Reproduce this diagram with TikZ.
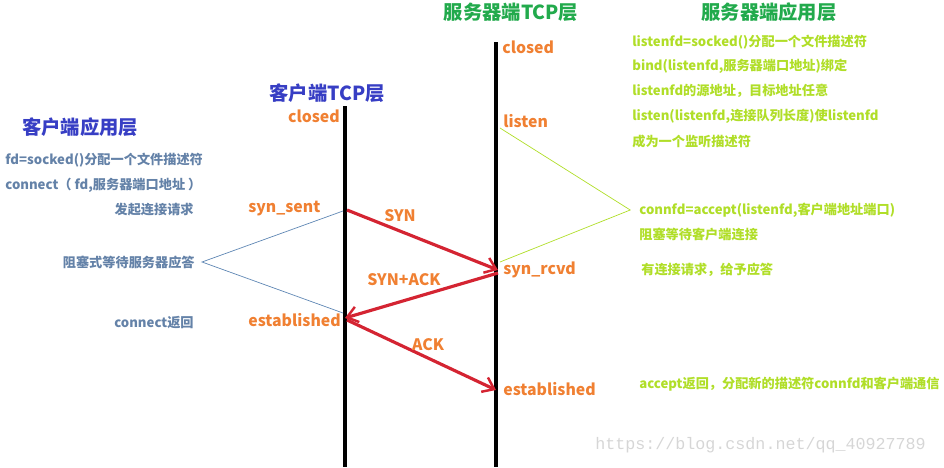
\documentclass[tikz,border=0pt]{standalone}
\usepackage{fontspec}
\setmainfont{Noto Sans CJK SC}
\newfontfamily\wmfont{Liberation Mono}
\usepackage{xcolor}
\usetikzlibrary{arrows.meta, positioning}

\definecolor{srvgreen}{RGB}{34,170,76}
\definecolor{clientblue}{RGB}{55,62,196}
\definecolor{stateorange}{RGB}{240,128,50}
\definecolor{clientgray}{RGB}{100,130,168}
\definecolor{applime}{RGB}{176,222,40}
\definecolor{msgred}{RGB}{212,36,50}
\definecolor{linkblue}{RGB}{95,135,180}

\begin{document}
\begin{tikzpicture}[
    x=0.02cm, y=-0.02cm,
    >=Stealth,
    % --- text styles ---
    titlelbl/.style={font=\fontsize{11}{13}\selectfont\bfseries, inner sep=0pt},
    statelbl/.style={font=\fontsize{9}{11}\selectfont\bfseries, text=stateorange, inner sep=0pt},
    cnote/.style={font=\fontsize{7.5}{9}\selectfont\bfseries, text=clientgray, inner sep=0pt},
    snote/.style={font=\fontsize{7.5}{9}\selectfont\bfseries, text=applime, inner sep=0pt},
    % --- line styles ---
    lifeline/.style={line width=2.8pt, color=black},
    msg/.style={-{Straight Barb[length=6pt, width=9pt, line width=1.4pt]},
        line width=1.8pt, color=msgred},
    clink/.style={line width=0.4pt, color=linkblue},
    slink/.style={line width=0.4pt, color=applime},
]
\useasboundingbox (0,0) rectangle (944,467);

% ---- Layer titles ----
\node[titlelbl, text=clientblue] (ctcp) at (327,93) {客户端TCP层};
\node[titlelbl, text=srvgreen] (stcp) at (511,12) {服务器端TCP层};
\node[titlelbl, text=clientblue] (capp) at (80,127) {客户端应用层};
\node[titlelbl, text=srvgreen] (sapp) at (769,12) {服务器端应用层};

% ---- Lifelines ----
\coordinate (ctop) at (345,106);
\coordinate (cbot) at (345,467);
\coordinate (stop) at (496,42);
\coordinate (sbot) at (496,467);
\draw[lifeline] (ctop) -- (cbot);
\draw[lifeline] (stop) -- (sbot);

% ---- TCP states ----
\node[statelbl, anchor=east] (cclosed) at (340,116) {closed};
\node[statelbl, anchor=west] (synsent) at (248,209) {syn\_sent};
\node[statelbl, anchor=west] (cest) at (248,320) {established};
\node[statelbl, anchor=west] (sclosed) at (502,47) {closed};
\node[statelbl, anchor=west] (listen) at (503,121) {listen};
\node[statelbl, anchor=west] (synrcvd) at (503,270) {syn\_rcvd};
\node[statelbl, anchor=west] (sest) at (503,389) {established};

% ---- Handshake points on the lifelines ----
\coordinate (c1) at (347,210);
\coordinate (s1) at (498,270);
\coordinate (s2) at (498,273);
\coordinate (c2) at (345,318);
\coordinate (c3) at (347,320);
\coordinate (s3) at (496,390);

\draw[msg] (c1) -- (s1);
\draw[msg] (s2) -- (c2);
\draw[msg] (c3) -- (s3);
\node[statelbl] (syn) at (400,216) {SYN};
\node[statelbl] (synack) at (404,280) {SYN+ACK};
\node[statelbl] (ack) at (428,345) {ACK};

% ---- Client application notes ----
\node[cnote, anchor=west] (cn1) at (5,160) {fd=socked()分配一个文件描述符};
\node[cnote, anchor=west] (cn2) at (5,185) {connect（ fd,服务器端口地址 ）};
\node[cnote, anchor=east] (cn3) at (194,210) {发起连接请求};
\node[cnote, anchor=east] (cwait) at (195,262) {阻塞式等待服务器应答};
\node[cnote, anchor=east] (cn5) at (194,323) {connect返回};

\coordinate (cwa) at (343,211);
\coordinate (cwb) at (343,313);
\draw[clink] (cwa) -- ([xshift=4pt]cwait.east) -- (cwb);

% ---- Server application notes ----
\node[snote, anchor=west] (sn1) at (632,42) {listenfd=socked()分配一个文件描述符};
\node[snote, anchor=west] (sn2) at (632,66) {bind(listenfd,服务器端口地址)绑定};
\node[snote, anchor=west] (sn3) at (632,91) {listenfd的源地址，目标地址任意};
\node[snote, anchor=west] (sn4) at (632,116) {listen(listenfd,连接队列长度)使listenfd};
\node[snote, anchor=west] (sn5) at (632,141) {成为一个监听描述符};
\node[snote, anchor=west] (saccept) at (639,210) {connfd=accept(listenfd,客户端地址端口)};
\node[snote, anchor=west] (sn7) at (639,234) {阻塞等待客户端连接};
\node[snote, anchor=west] (sn8) at (641,270) {有连接请求，给予应答};
\node[snote, anchor=west] (sn9) at (639,384) {accept返回，分配新的描述符connfd和客户端通信};

\coordinate (swa) at (500,128);
\coordinate (swb) at (500,262);
\draw[slink] (swa) -- ([xshift=-5pt]saccept.west) -- (swb);

% ---- Watermark ----
\node[font=\wmfont\fontsize{9.5}{11}\selectfont, text=black!16, anchor=east] (wm) at (932,445) {https://blog.csdn.net/qq\_40927789};

\end{tikzpicture}
\end{document}
